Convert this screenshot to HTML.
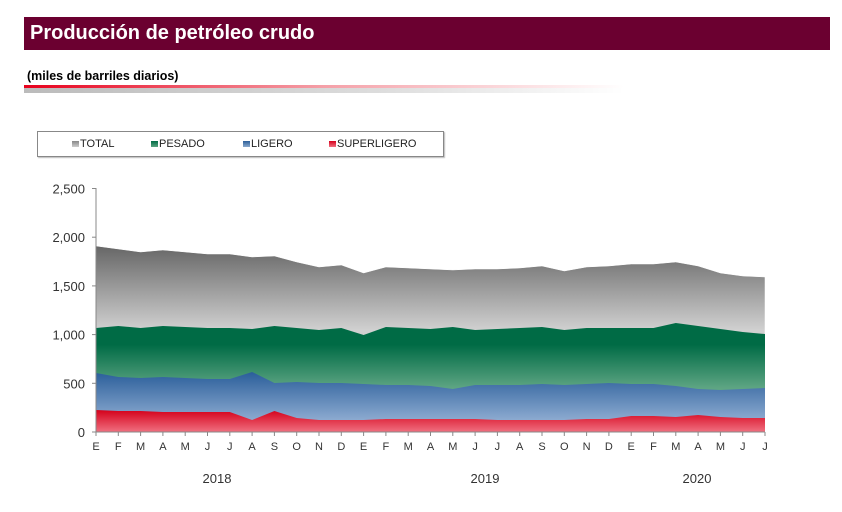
<!DOCTYPE html>
<html><head><meta charset="utf-8"><style>
body{margin:0;width:842px;height:512px;background:#fff;font-family:"Liberation Sans",sans-serif;position:relative;overflow:hidden}
.t{position:absolute;left:24px;top:17px;width:806px;height:33px;background:#6b0030;color:#fff;font-weight:bold;font-size:20px;line-height:33px;padding-left:6px;box-sizing:border-box}
.s{position:absolute;left:27px;top:69px;font-size:12.5px;font-weight:bold;color:#000}
.l1{position:absolute;left:24px;top:85px;width:600px;height:3px;background:linear-gradient(90deg,#e8001c,#f5a0a8 50%,#fff)}
.l2{position:absolute;left:24px;top:88px;width:600px;height:5px;background:linear-gradient(90deg,#bbb,#ddd 60%,#fff)}
.lg{position:absolute;left:37px;top:131px;width:405px;height:24px;border:1px solid #888;box-shadow:1px 1px 1px #bbb;font-size:11px;color:#222}
.lg span{position:absolute;top:6px}
.lg i{display:inline-block;width:7px;height:6px;margin-right:1px}
</style></head><body>
<div class="t">Producción de petróleo crudo</div>
<div class="s">(miles de barriles diarios)</div>
<div class="l1"></div><div class="l2"></div>
<div class="lg">
<span style="left:34px"><i style="background:linear-gradient(#888,#ccc)"></i>TOTAL</span>
<span style="left:113px"><i style="background:linear-gradient(#006b45,#5aa37f)"></i>PESADO</span>
<span style="left:205px"><i style="background:linear-gradient(#2c5f9a,#8aa8cc)"></i>LIGERO</span>
<span style="left:291px"><i style="background:linear-gradient(#d6001c,#f07080)"></i>SUPERLIGERO</span>
</div>
<svg width="842" height="512" style="position:absolute;left:0;top:0" id="c">
<defs>
<linearGradient id="g0" gradientUnits="userSpaceOnUse" x1="0" y1="246" x2="0" y2="330"><stop offset="0" stop-color="#666"/><stop offset="1" stop-color="#d0d0d0"/></linearGradient>
<linearGradient id="g1" gradientUnits="userSpaceOnUse" x1="0" y1="326" x2="0" y2="388"><stop offset="0.3" stop-color="#006b45"/><stop offset="1" stop-color="#5ea583"/></linearGradient>
<linearGradient id="g2" gradientUnits="userSpaceOnUse" x1="0" y1="372" x2="0" y2="420"><stop offset="0" stop-color="#2a5e9a"/><stop offset="1" stop-color="#8caad0"/></linearGradient>
<linearGradient id="g3" gradientUnits="userSpaceOnUse" x1="0" y1="410" x2="0" y2="432"><stop offset="0" stop-color="#d4001a"/><stop offset="1" stop-color="#f07080"/></linearGradient>
</defs>
<g id="areas"></g>
<line x1="96" y1="188" x2="96" y2="432" stroke="#888"/>
<line x1="96" y1="432" x2="765" y2="432" stroke="#888"/>
<g id="ax" font-size="13" fill="#333" font-family="Liberation Sans, sans-serif"></g>
</svg>
<script>
var T=[246,249,252,250,252,254,254,257,256,262,267,265,273,267,268,269,270,269,269,268,266,271,267,266,264,264,262,266,273,276,277];
var P=[328,326,328,326,327,328,328,329,326,328,330,328,335,327,328,329,327,330,329,328,327,330,328,328,328,328,323,326,329,332,334];
var L=[373,377,378,377,378,379,379,372,383,382,383,383,384,385,385,386,389,385,385,385,384,385,384,383,384,384,386,389,390,389,388];
var S=[410,411,411,412,412,412,412,420,411,418,420,420,420,419,419,419,419,419,420,420,420,420,419,419,416,416,417,415,417,418,418];
var ns="http://www.w3.org/2000/svg",X=function(i){return 96+i*22.3};
var g=document.getElementById("areas");
[[T,"g0"],[P,"g1"],[L,"g2"],[S,"g3"]].forEach(function(a){
var d="M96,432";a[0].forEach(function(y,i){d+=" L"+X(i).toFixed(1)+","+y});d+=" L765,432Z";
var p=document.createElementNS(ns,"path");p.setAttribute("d",d);p.setAttribute("fill","url(#"+a[1]+")");
if(a[1]=="g0"){p.setAttribute("stroke","#fff");p.setAttribute("stroke-width","0.5")}g.appendChild(p);});
var ax=document.getElementById("ax"),h="";
["0","500","1,000","1,500","2,000","2,500"].forEach(function(t,i){var y=432-i*48.7;
h+='<text x="85" y="'+(y+5)+'" text-anchor="end">'+t+'</text><line x1="92" y1="'+y+'" x2="96" y2="'+y+'" stroke="#888"/>';});
var m="EFMAMJJASONDEFMAMJJASONDEFMAMJJ";
for(var i=0;i<31;i++){h+='<text x="'+X(i)+'" y="450" text-anchor="middle" font-size="11">'+m[i]+'</text><line x1="'+X(i)+'" y1="432" x2="'+X(i)+'" y2="436" stroke="#888"/>';}
h+='<text x="217" y="483" text-anchor="middle" font-size="13">2018</text><text x="485" y="483" text-anchor="middle" font-size="13">2019</text><text x="697" y="483" text-anchor="middle" font-size="13">2020</text>';
ax.innerHTML=h;
</script>
</body></html>
